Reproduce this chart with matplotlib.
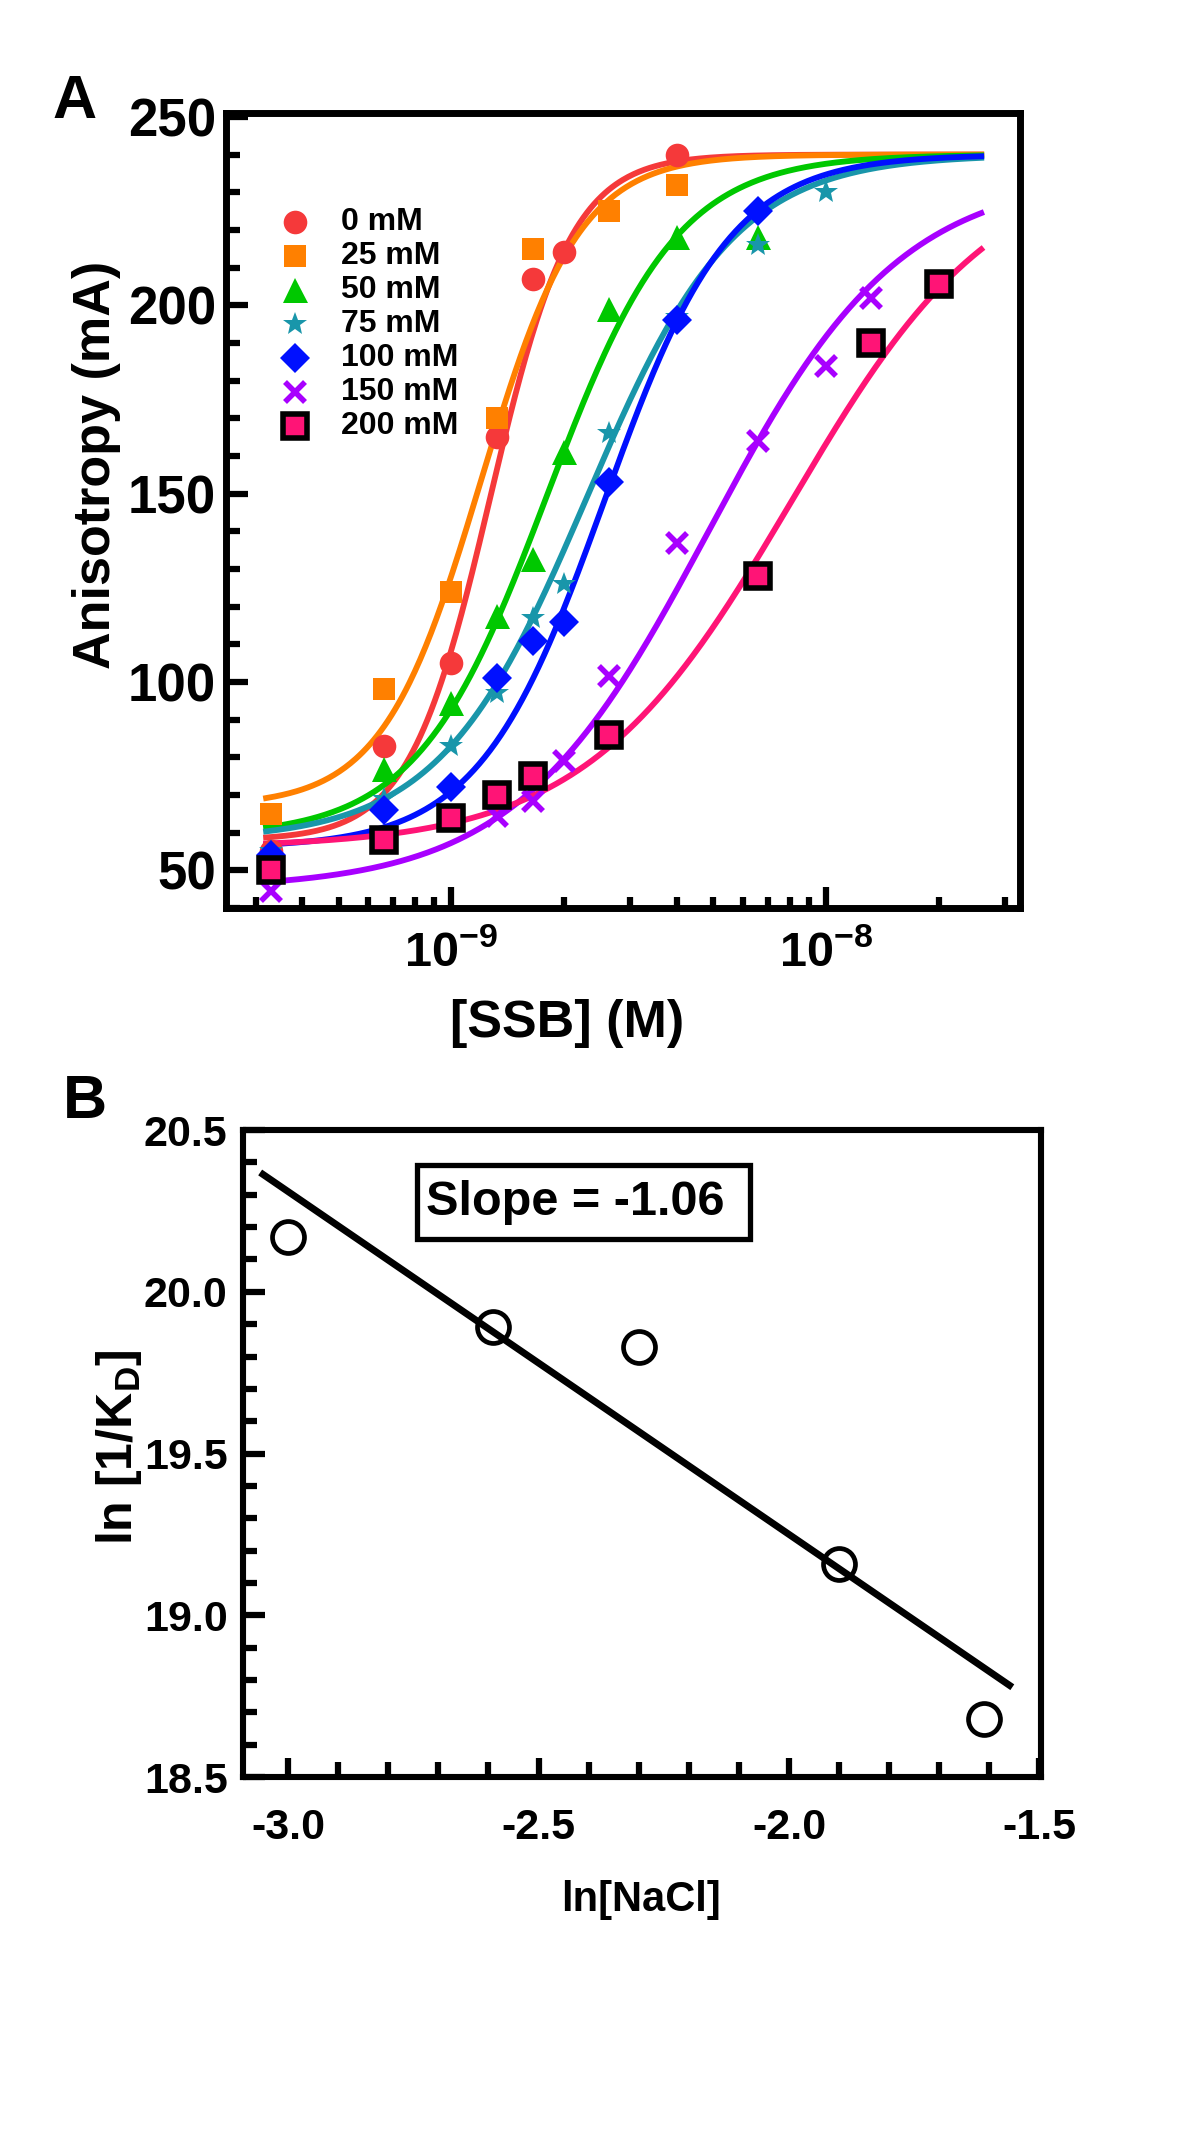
import numpy as np
import matplotlib
matplotlib.use("Agg")
import matplotlib.pyplot as plt
from matplotlib.patches import Rectangle
from matplotlib.ticker import LogLocator, NullFormatter, FuncFormatter, MultipleLocator, FormatStrFormatter

FONT = "Liberation Sans"
plt.rcParams["font.family"] = [FONT, "DejaVu Sans"]
plt.rcParams["font.weight"] = "bold"
plt.rcParams["mathtext.fontset"] = "custom"
plt.rcParams["mathtext.rm"] = FONT + ":bold"
plt.rcParams["mathtext.it"] = FONT + ":bold"
plt.rcParams["mathtext.bf"] = FONT + ":bold"
plt.rcParams["mathtext.default"] = "rm"
plt.rcParams["axes.unicode_minus"] = False

# ---- panel A data: anisotropy vs [SSB] ----
salt_labels = ["0 mM", "25 mM", "50 mM", "75 mM", "100 mM", "150 mM", "200 mM"]

ssb_0 = [3.3e-10, 6.6e-10, 1e-9, 1.32e-9, 1.65e-9, 2e-9, 4e-9]
aniso_0 = [55, 83, 105, 165, 207, 214, 240]

ssb_25 = [3.3e-10, 6.6e-10, 1e-9, 1.32e-9, 1.65e-9, 2.64e-9, 4e-9]
aniso_25 = [65, 98, 124, 170, 215, 225, 232]

ssb_50 = [3.3e-10, 6.6e-10, 1e-9, 1.32e-9, 1.65e-9, 2e-9, 2.64e-9, 4e-9, 6.6e-9]
aniso_50 = [54, 77, 94.5, 117.6, 132.6, 161, 199, 218, 218]

ssb_75 = [3.3e-10, 6.6e-10, 1e-9, 1.32e-9, 1.65e-9, 2e-9, 2.64e-9, 4e-9, 6.6e-9, 1e-8]
aniso_75 = [55, 69, 83, 97, 117, 126, 166, 197, 216, 230]

ssb_100 = [3.3e-10, 6.6e-10, 1e-9, 1.32e-9, 1.65e-9, 2e-9, 2.64e-9, 4e-9, 6.6e-9]
aniso_100 = [54, 66, 72, 101, 111, 116, 153, 196, 225]

ssb_150 = [3.3e-10, 1.32e-9, 1.65e-9, 2e-9, 2.64e-9, 4e-9, 6.6e-9, 1e-8, 1.32e-8]
aniso_150 = [44.4, 64.4, 68.4, 79, 101.6, 137, 164, 184, 202]

ssb_200 = [3.3e-10, 6.6e-10, 1e-9, 1.32e-9, 1.65e-9, 2.64e-9, 6.6e-9, 1.32e-8, 2e-8]
aniso_200 = [50, 58, 64, 70, 75, 86, 128, 190, 205.6]

# Hill fit parameters
fit_bottom = [58, 67, 59, 58, 56, 45, 56]
fit_top = [240, 240, 240, 240, 240, 235, 240]
fit_kd = [1.27e-9, 1.2e-9, 1.8e-9, 2.3e-9, 2.56e-9, 4.86e-9, 8.1e-9]
fit_n = [4.0, 3.3, 2.5, 2.2, 2.58, 1.69, 1.58]
fit_span = [3.2e-10, 2.6e-8]

# ---- panel B data ----
ln_nacl = [-3.0, -2.59, -2.30, -1.90, -1.61]
ln_inv_kd = [20.17, 19.89, 19.83, 19.16, 18.68]
line_slope = -1.06
line_intercept = 17.13
line_span = [-3.05, -1.56]

colors = ["#f5393a", "#ff8000", "#00c800", "#1996aa", "#0010ff", "#a800ff", "#ff1476"]
markers = ["o", "s", "^", "*", "D", "x", "s"]
msizes = [17, 16, 18, 18, 15, 15, 17]

series_x = [ssb_0, ssb_25, ssb_50, ssb_75, ssb_100, ssb_150, ssb_200]
series_y = [aniso_0, aniso_25, aniso_50, aniso_75, aniso_100, aniso_150, aniso_200]

fig = plt.figure(figsize=(12, 21.42), dpi=100)
axA = fig.add_axes([0.1883, 0.5761, 0.6617, 0.3711])
axB = fig.add_axes([0.2025, 0.1704, 0.665, 0.302])


def mark(ax, x, y, i, ms, **kw):
    if i == 6:
        ax.plot(x, y, ls="none", marker="s", ms=ms, mfc=colors[i], mec="black", mew=4, **kw)
    elif markers[i] == "x":
        ax.plot(x, y, ls="none", marker="x", ms=ms, mec=colors[i], mew=4, **kw)
    else:
        ax.plot(x, y, ls="none", marker=markers[i], ms=ms, mfc=colors[i], mec=colors[i], mew=0, **kw)


xx = np.logspace(np.log10(fit_span[0]), np.log10(fit_span[1]), 400)
for i in range(7):
    b, t, kd, n = fit_bottom[i], fit_top[i], fit_kd[i], fit_n[i]
    yy = b + (t - b) * xx**n / (kd**n + xx**n)
    axA.plot(xx, yy, color=colors[i], lw=4.2, zorder=2)
    mark(axA, series_x[i], series_y[i], i, msizes[i], zorder=3)

# legend drawn by hand so rows can sit tight like the original
for i in range(7):
    yl = 0.863 - i * 0.0428
    mark(axA, [0.087], [yl], i, msizes[i], transform=axA.transAxes, clip_on=False, zorder=4)
    axA.text(0.145, yl, salt_labels[i], transform=axA.transAxes, fontsize=23,
             fontweight="bold", va="center", ha="left")

axA.set_xscale("log")
axA.set_xlim(2.5e-10, 3.3e-8)
axA.set_ylim(40, 251)
axA.xaxis.set_major_locator(LogLocator(base=10, numticks=10))
axA.xaxis.set_minor_locator(LogLocator(base=10, subs=np.arange(2, 10), numticks=20))
axA.xaxis.set_minor_formatter(NullFormatter())
axA.xaxis.set_major_formatter(FuncFormatter(lambda v, p: r"10$^{%d}$" % round(np.log10(v))))
axA.yaxis.set_major_locator(MultipleLocator(50))
axA.yaxis.set_minor_locator(MultipleLocator(10))

axA.set_xlabel("[SSB] (M)", fontsize=37.5, fontweight="bold")
axA.xaxis.set_label_coords(0.43, -0.114)
axA.set_ylabel("Anisotropy (mA)", fontsize=37.5, fontweight="bold")
axA.yaxis.set_label_coords(-0.132, 0.558)

# ---- panel B ----
axB.plot(ln_nacl, ln_inv_kd, ls="none", marker="o", ms=23, mfc="none", mec="black", mew=3.4, zorder=3)
lx = np.array(line_span)
axB.plot(lx, line_slope * lx + line_intercept, color="black", lw=5, zorder=2)
axB.add_patch(Rectangle((-2.743, 20.163), 0.665, 0.228, fill=False, lw=3.8, ec="black", zorder=4))
axB.text(-2.725, 20.277, "Slope = -1.06", fontsize=35, fontweight="bold", va="center", ha="left")

axB.set_xlim(-3.09, -1.497)
axB.set_ylim(18.5, 20.5)
axB.xaxis.set_major_locator(MultipleLocator(0.5))
axB.xaxis.set_minor_locator(MultipleLocator(0.1))
axB.yaxis.set_major_locator(MultipleLocator(0.5))
axB.yaxis.set_minor_locator(MultipleLocator(0.1))
axB.xaxis.set_major_formatter(FormatStrFormatter("%.1f"))
axB.yaxis.set_major_formatter(FormatStrFormatter("%.1f"))
axB.set_xlabel("ln[NaCl]", fontsize=30, fontweight="bold")
axB.xaxis.set_label_coords(0.499, -0.159)
axB.set_ylabel(r"ln [1/K$_{\rm D}$]", fontsize=36, fontweight="bold")
axB.yaxis.set_label_coords(-0.124, 0.51)

for ax, sw in ((axA, 5), (axB, 4.4)):
    for s in ax.spines.values():
        s.set_linewidth(sw)
    ax.tick_params(which="both", direction="in", top=False, right=False)
    ax.tick_params(which="major", length=16, width=4.5)
    ax.tick_params(which="minor", length=10, width=4.5)

axA.tick_params(axis="y", which="major", labelsize=38, pad=7)
axA.tick_params(axis="x", which="major", labelsize=35, pad=16, length=15)
axA.tick_params(axis="x", which="minor", length=8)
axB.tick_params(axis="both", which="major", labelsize=31)
axB.tick_params(axis="y", which="major", pad=11)
axB.tick_params(axis="x", which="major", pad=22, length=14)
axB.tick_params(axis="x", which="minor", length=11)

fig.text(75 / 1200, 1 - 102 / 2142, "A", fontsize=44, fontweight="bold", ha="center", va="center")
fig.text(85 / 1200, 1 - 1103 / 2142, "B", fontsize=44, fontweight="bold", ha="center", va="center")

fig.savefig("out.png", dpi=100)
